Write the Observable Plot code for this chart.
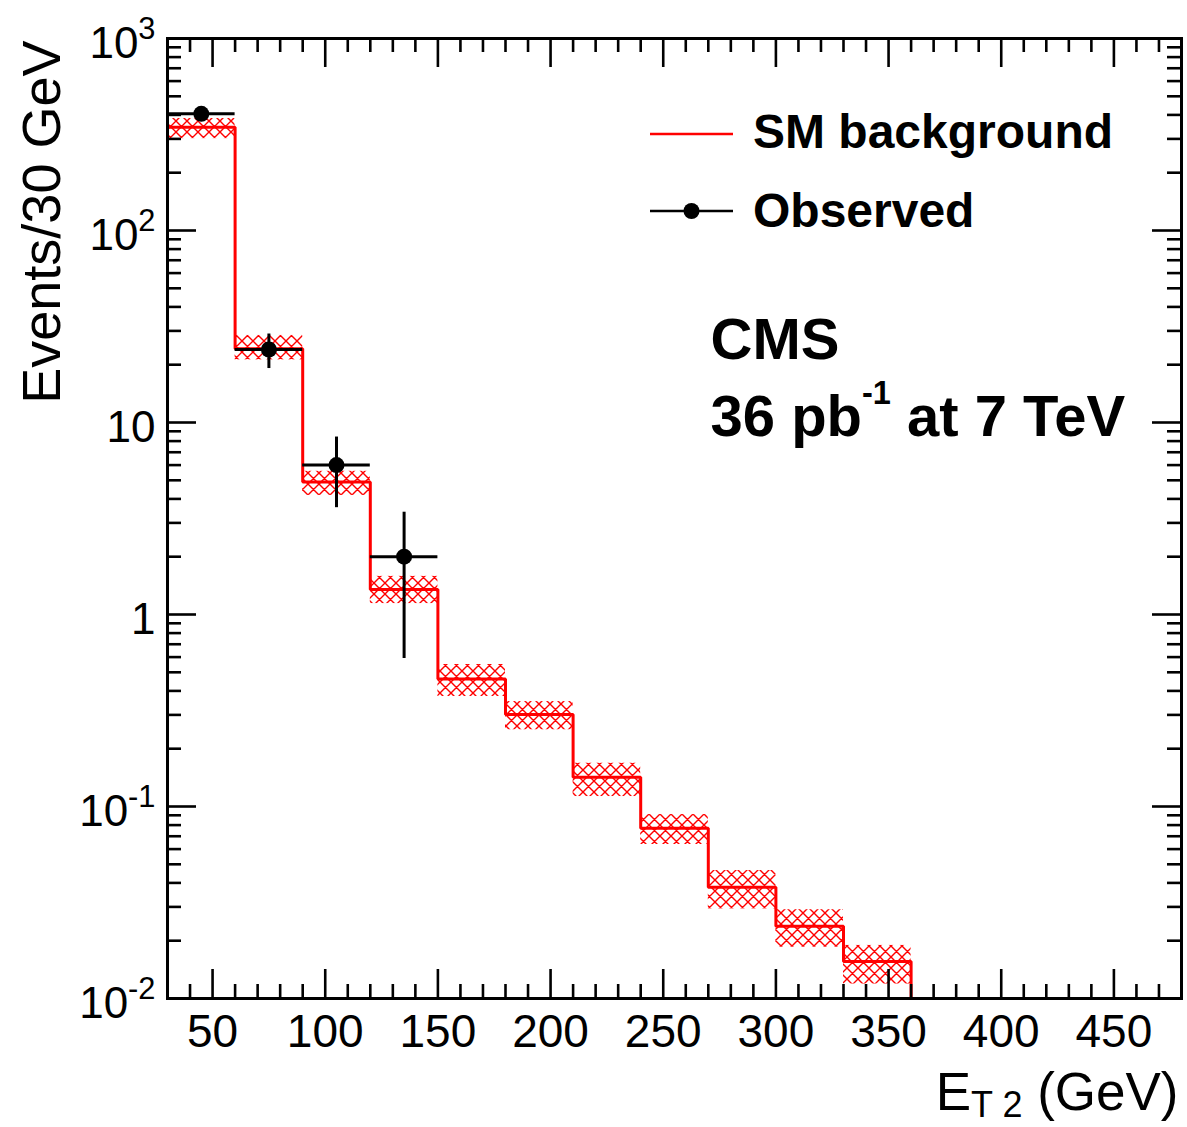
<!DOCTYPE html>
<html>
<head>
<meta charset="utf-8">
<script src="https://cdn.jsdelivr.net/npm/d3@7"></script>
<script src="https://cdn.jsdelivr.net/npm/@observablehq/plot@0.6"></script>
<style>
  html, body { margin: 0; padding: 0; background: #fff; }
  #chart { position: relative; width: 1187px; height: 1127px; }
  svg { display: block; }
</style>
</head>
<body>
<div id="chart"></div>
<script>
// ---------------- data ----------------
const binLow = [30, 60, 90, 120, 150, 180, 210, 240, 270, 300, 330];
const binWidth = 30;
// SM background prediction (events / 30 GeV)
const bkg     = [345, 24.2, 4.9, 1.35, 0.462, 0.301, 0.142, 0.0771, 0.0380, 0.0238, 0.0156];
const bkgUp   = [383, 28.4, 5.57, 1.58, 0.549, 0.352, 0.168, 0.0908, 0.0464, 0.0290, 0.0189];
const bkgDown = [301, 21.2, 4.17, 1.14, 0.374, 0.251, 0.1127, 0.0634, 0.0293, 0.0185, 0.0119];
// Observed data
const obsCenter = [45, 75, 105, 135];
const obs       = [405, 24, 6, 2];
const obsUp     = [425, 28.9, 8.4, 3.41];
const obsDown   = [385, 19.1, 3.6, 0.59];
// axes
const xDomain = [30, 480];
const yDomain = [0.01, 1000];
const xMajorTicks = [50, 100, 150, 200, 250, 300, 350, 400, 450];
const yMajorTicks = [0.01, 0.1, 1, 10, 100, 1000];
const xMinorTicks = d3.range(40, 480, 10).filter(v => v % 50 !== 0);
const yMinorTicks = [0.01, 0.1, 1, 10, 100].flatMap(d => [2, 3, 4, 5, 6, 7, 8, 9].map(k => k * d));
// texts
const xTitle = "E_{T 2} (GeV)";
const yTitle = "Events/30 GeV";
const cmsText = "CMS";
const lumiText = "36 pb^{-1} at 7 TeV";
const legendLabels = ["SM background", "Observed"];

// ---------------- layout ----------------
const W = 1187, H = 1127;
const mL = 167, mR = 6, mT = 38, mB = 129;
const plotW = W - mL - mR, plotH = H - mT - mB;
const majorLen = 29, minorLen = 14;
const font = "'Liberation Sans', Arial, Helvetica, sans-serif";

const bins = binLow.map((x, i) => ({x1: x, x2: x + binWidth, y: bkg[i], lo: bkgDown[i], hi: bkgUp[i]}));
const stepPts = binLow.map((x, i) => ({x, y: bkg[i]}));
stepPts.push({x: binLow[binLow.length - 1] + binWidth, y: bkg[bkg.length - 1]});
stepPts.push({x: binLow[binLow.length - 1] + binWidth, y: yDomain[0]});
const obsData = obsCenter.map((x, i) => ({x, x1: x - binWidth / 2, x2: x + binWidth / 2, y: obs[i], lo: obsDown[i], hi: obsUp[i]}));

const fmtY = v => v === 1 ? "1" : v === 10 ? "10" : `10^{${Math.round(Math.log10(v))}}`;

const tickStyle = {stroke: "#000", strokeWidth: 2.6};

const svg = Plot.plot({
  width: W, height: H,
  marginLeft: mL, marginRight: mR, marginTop: mT, marginBottom: mB,
  style: {fontFamily: font, background: "#fff", color: "#000"},
  x: {domain: xDomain},
  y: {type: "log", domain: yDomain},
  marks: [
    // uncertainty band (cross-hatched)
    Plot.rect(bins, {x1: "x1", x2: "x2", y1: "lo", y2: "hi", fill: "url(#hatch)"}),
    // SM background histogram
    Plot.line(stepPts, {x: "x", y: "y", curve: "step-after", stroke: "#ff0000", strokeWidth: 3, strokeLinejoin: "miter"}),
    // observed
    Plot.ruleX(obsData, {x: "x", y1: "lo", y2: "hi", stroke: "#000", strokeWidth: 3}),
    Plot.ruleY(obsData, {y: "y", x1: "x1", x2: "x2", stroke: "#000", strokeWidth: 3}),
    Plot.dot(obsData, {x: "x", y: "y", r: 8, fill: "#000", stroke: "none"}),
    // ticks (inside, all four sides)
    Plot.ruleX(xMajorTicks, {x: d => d, insetTop: plotH - majorLen, ...tickStyle}),
    Plot.ruleX(xMinorTicks, {x: d => d, insetTop: plotH - minorLen, ...tickStyle}),
    Plot.ruleX(xMajorTicks, {x: d => d, insetBottom: plotH - majorLen, ...tickStyle}),
    Plot.ruleX(xMinorTicks, {x: d => d, insetBottom: plotH - minorLen, ...tickStyle}),
    Plot.ruleY(yMajorTicks, {y: d => d, insetRight: plotW - majorLen, ...tickStyle}),
    Plot.ruleY(yMinorTicks, {y: d => d, insetRight: plotW - minorLen, ...tickStyle}),
    Plot.ruleY(yMajorTicks, {y: d => d, insetLeft: plotW - majorLen, ...tickStyle}),
    Plot.ruleY(yMinorTicks, {y: d => d, insetLeft: plotW - minorLen, ...tickStyle}),
    Plot.frame({stroke: "#000", strokeWidth: 3}),
    // axes labels
    Plot.axisX({ticks: xMajorTicks, tickSize: 0, tickPadding: 16, fontSize: 46, label: null, tickFormat: d => String(d)}),
    Plot.axisY({ticks: yMajorTicks, tickSize: 0, tickPadding: 12, fontSize: 44, label: null, tickFormat: fmtY, dy: 5}),
    // axis titles
    Plot.text([yTitle], {text: d => d, frameAnchor: "top-left", rotate: -90, textAnchor: "end", lineAnchor: "bottom", dx: 59 - mL, dy: 2, fontSize: 54, fill: "#000"}),
    Plot.text([xTitle], {text: d => d, frameAnchor: "bottom-right", textAnchor: "end", lineAnchor: "bottom", dx: -3, dy: 111, fontSize: 53, fill: "#000"}),
    // CMS annotation
    Plot.text([cmsText], {text: d => d, frameAnchor: "top-left", textAnchor: "start", lineAnchor: "bottom", dx: 710 - mL, dy: 358 - mT, fontSize: 58, fontWeight: "bold", fill: "#000"}),
    Plot.text([lumiText], {text: d => d, frameAnchor: "top-left", textAnchor: "start", lineAnchor: "bottom", dx: 710 - mL, dy: 435 - mT, fontSize: 58, fontWeight: "bold", fill: "#000"})
  ]
});

// hatch pattern definition
const defs = d3.select(svg).insert("defs", ":first-child");
const pat = defs.append("pattern").attr("id", "hatch").attr("patternUnits", "userSpaceOnUse")
  .attr("width", 11).attr("height", 11);
pat.append("path").attr("d", "M0,0L11,11M11,0L0,11M-1,10L1,12M10,-1L12,1M-1,1L1,-1M10,12L12,10")
  .attr("stroke", "#ff0000").attr("stroke-width", 1.4).attr("fill", "none");

// rich text: ^{...} superscript, _{...} subscript
function richify(el, opt) {
  const s = el.textContent;
  if (!/[\^_]\{/.test(s)) return;
  const fs = parseFloat(getComputedStyle(el).fontSize);
  const parts = [];
  const re = /([\^_])\{([^}]*)\}/g;
  let last = 0, m;
  while ((m = re.exec(s))) {
    if (m.index > last) parts.push({t: s.slice(last, m.index), k: 0});
    parts.push({t: m[2], k: m[1] === "^" ? 1 : -1});
    last = re.lastIndex;
  }
  if (last < s.length) parts.push({t: s.slice(last), k: 0});
  while (el.firstChild) el.removeChild(el.firstChild);
  let cur = 0;
  for (const p of parts) {
    const target = p.k === 1 ? -opt.sup * fs : p.k === -1 ? opt.sub * fs : 0;
    const t = document.createElementNS("http://www.w3.org/2000/svg", "tspan");
    if (target - cur !== 0) t.setAttribute("dy", (target - cur).toFixed(1));
    if (p.k === 1) t.setAttribute("font-size", (opt.supSize * fs).toFixed(1));
    if (p.k === -1) t.setAttribute("font-size", (opt.subSize * fs).toFixed(1));
    t.textContent = p.t;
    el.appendChild(t);
    cur = target;
  }
}

document.getElementById("chart").appendChild(svg);

d3.select(svg).selectAll("text").each(function () {
  const s = this.textContent;
  if (s.startsWith("36")) richify(this, {sup: 0.54, supSize: 0.56, sub: 0.3, subSize: 0.7});
  else if (s.startsWith("E_")) richify(this, {sup: 0.5, supSize: 0.7, sub: 0.15, subSize: 0.68});
  else richify(this, {sup: 0.42, supSize: 0.7, sub: 0.3, subSize: 0.7});
});

// legend (drawn inside the frame, top right)
const legend = d3.select(svg).append("g").attr("font-family", font).attr("font-weight", "bold")
  .attr("font-size", 48).attr("text-anchor", "start");
const legRows = [{y: 134, base: 148, color: "#ff0000", dot: false}, {y: 211, base: 227, color: "#000", dot: true}];
legRows.forEach((r, i) => {
  legend.append("line").attr("x1", 650).attr("x2", 733).attr("y1", r.y).attr("y2", r.y)
    .attr("stroke", r.color).attr("stroke-width", 2.4);
  if (r.dot) legend.append("circle").attr("cx", 691.5).attr("cy", r.y).attr("r", 8).attr("fill", "#000");
  legend.append("text").attr("x", 753).attr("y", r.base).attr("fill", "#000")
    .attr("text-anchor", "start").text(legendLabels[i]);
});
</script>
</body>
</html>
